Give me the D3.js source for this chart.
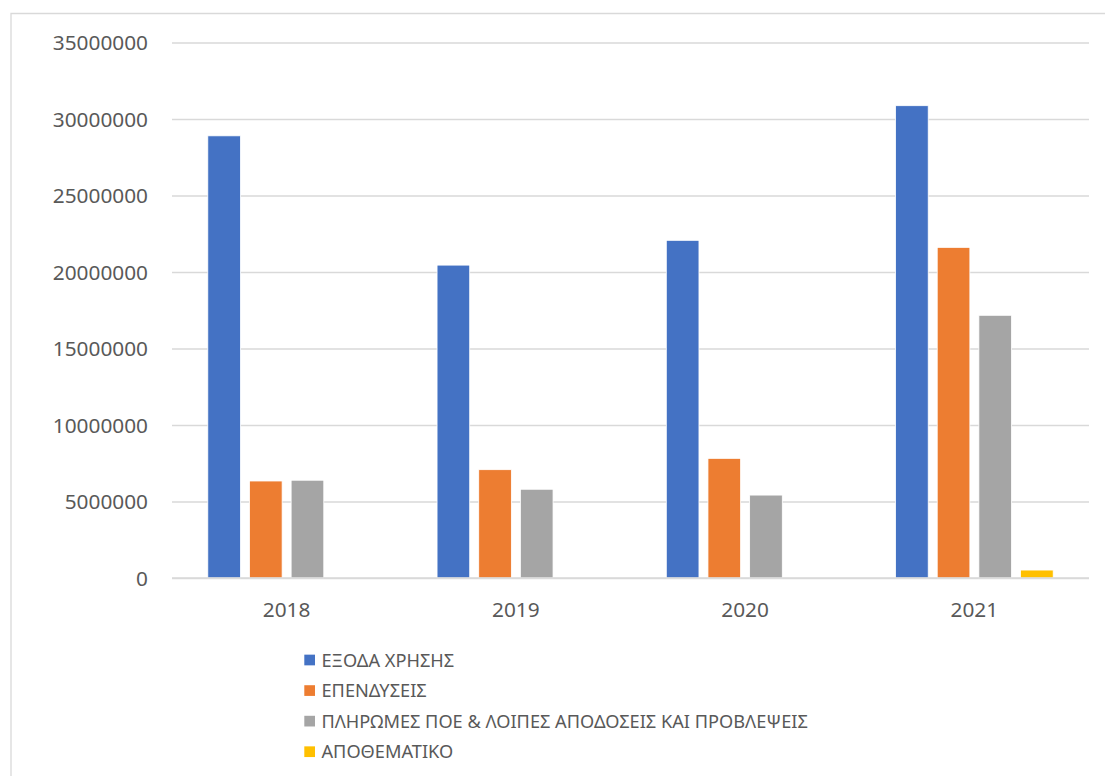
<!DOCTYPE html>
<html>
<head>
<meta charset="utf-8">
<script src="https://cdn.jsdelivr.net/npm/d3@7"></script>
<style>
  html, body { margin: 0; padding: 0; background: #fff; }
  svg { display: block; }
</style>
</head>
<body>
<svg id="chart" width="1105" height="776"></svg>
<script>
const years = ["2018", "2019", "2020", "2021"];
const seriesNames = [
  "ΕΞΟΔΑ ΧΡΗΣΗΣ",
  "ΕΠΕΝΔΥΣΕΙΣ",
  "ΠΛΗΡΩΜΕΣ ΠΟΕ & ΛΟΙΠΕΣ ΑΠΟΔΟΣΕΙΣ ΚΑΙ ΠΡΟΒΛΕΨΕΙΣ",
  "ΑΠΟΘΕΜΑΤΙΚΟ"
];
const exodaXrisis   = [28900000, 20450000, 22070000, 30870000];
const ependyseis    = [6340000, 7080000, 7820000, 21610000];
const pliromesPoe   = [6390000, 5800000, 5420000, 17170000];
const apothematiko  = [0, 0, 0, 520000];
const yTicks = [0, 5000000, 10000000, 15000000, 20000000, 25000000, 30000000, 35000000];
const colors = ["#4472C4", "#ED7D31", "#A5A5A5", "#FFC000"];

const seriesValues = [exodaXrisis, ependyseis, pliromesPoe, apothematiko];

const svg = d3.select("#chart");
const textColor = "#595959";
const font = "'Noto Sans', 'Open Sans', sans-serif";

// chart border (left + top, like the cropped Excel frame)
svg.append("path")
  .attr("d", "M11,776 L11,13.5 L1105,13.5")
  .attr("fill", "none")
  .attr("stroke", "#d9d9d9")
  .attr("stroke-width", 1.3);

const plot = { left: 172, right: 1089, top: 42.5, bottom: 578 };

const y = d3.scaleLinear().domain([0, 35000000]).range([plot.bottom, plot.top]);
const x0 = d3.scaleBand().domain(years).range([plot.left, plot.right]).paddingInner(0).paddingOuter(0);
const groupPad = 35.8;
const x1 = d3.scaleBand().domain(d3.range(seriesNames.length))
  .range([groupPad, x0.bandwidth() - groupPad]).paddingInner(0.216).paddingOuter(0);

// gridlines
const yAxis = d3.axisLeft(y).tickValues(yTicks).tickSize(0).tickPadding(0).tickFormat(d3.format("d"));
const gAxis = svg.append("g").attr("transform", `translate(${plot.left},0)`).call(yAxis);
gAxis.select(".domain").remove();
gAxis.selectAll(".tick line")
  .attr("x2", plot.right - plot.left)
  .attr("stroke", "#d9d9d9")
  .attr("stroke-width", 1.4);
gAxis.selectAll(".tick text")
  .attr("x", 148 - plot.left)
  .attr("dy", "0.35em")
  .attr("text-anchor", "end")
  .attr("fill", textColor)
  .style("font-family", font)
  .style("font-size", "20.8px");

// bars
const groups = svg.append("g").selectAll("g")
  .data(years)
  .join("g")
  .attr("transform", d => `translate(${x0(d)},0)`);

groups.selectAll("rect")
  .data((d, i) => seriesValues.map((vals, s) => ({ s, v: vals[i] })).filter(e => e.v > 0))
  .join("rect")
  .attr("x", d => x1(d.s))
  .attr("width", x1.bandwidth())
  .attr("y", d => y(d.v))
  .attr("height", d => y(0) - y(d.v))
  .attr("fill", d => colors[d.s])
  .attr("stroke", "#ffffff")
  .attr("stroke-width", 0.8);

// baseline redraw (zero gridline above bars)
svg.append("line")
  .attr("x1", plot.left).attr("x2", plot.right)
  .attr("y1", y(0)).attr("y2", y(0))
  .attr("stroke", "#d9d9d9").attr("stroke-width", 1.4);

// x axis labels
const xAxis = d3.axisBottom(x0).tickSize(0).tickPadding(0);
const gX = svg.append("g").attr("transform", `translate(0,${plot.bottom})`).call(xAxis);
gX.select(".domain").remove();
gX.selectAll(".tick text")
  .attr("y", 39)
  .attr("dy", 0)
  .attr("fill", textColor)
  .style("font-family", font)
  .style("font-size", "20.8px");

// legend
const legend = svg.append("g");
const legendY = d3.scalePoint().domain(d3.range(seriesNames.length)).range([660, 751.7]);
const items = legend.selectAll("g").data(seriesNames).join("g")
  .attr("transform", (d, i) => `translate(304.3,${legendY(i)})`);
items.append("rect")
  .attr("x", 0).attr("y", -5.35)
  .attr("width", 10.7).attr("height", 10.7)
  .attr("fill", (d, i) => colors[i]);
items.append("text")
  .attr("x", 17.2)
  .attr("dy", "0.36em")
  .attr("fill", textColor)
  .style("font-family", font)
  .style("font-size", "18.2px")
  .text(d => d);
</script>
</body>
</html>
